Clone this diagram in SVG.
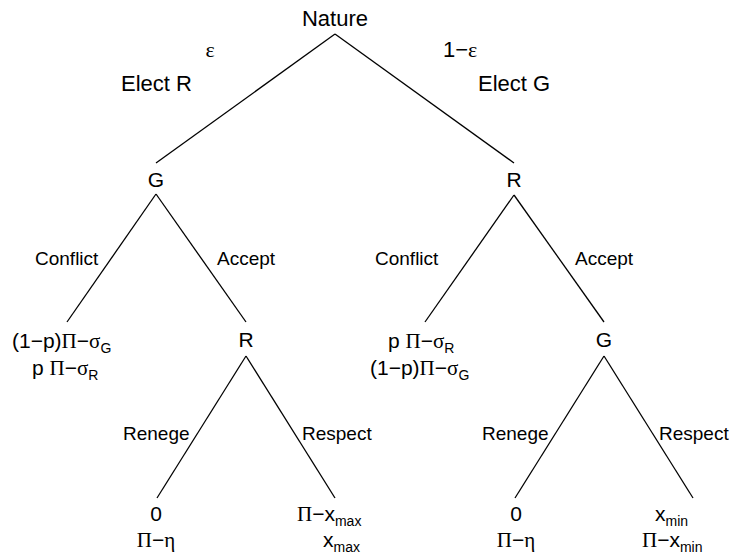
<svg xmlns="http://www.w3.org/2000/svg" width="729" height="559" viewBox="0 0 729 559">
<style>
text{font-family:"Liberation Sans",Arial,sans-serif;fill:#000}
.n{font-size:21px;text-anchor:middle}
.t{font-size:22px}
.e{font-size:19px}
.p{font-size:21px}
.g{font-family:"Liberation Serif","Times New Roman",serif}
.s{font-size:14px}
#edges line{stroke:#000;stroke-width:1.3;fill:none}
</style>
<rect width="729" height="559" fill="#fff"/>
<g id="edges">
<line x1="335" y1="34" x2="156" y2="163"/>
<line x1="335" y1="34" x2="514" y2="163"/>
<line x1="156" y1="194" x2="67" y2="322"/>
<line x1="156" y1="194" x2="246" y2="322"/>
<line x1="514" y1="195" x2="425" y2="322"/>
<line x1="514" y1="195" x2="604" y2="322"/>
<line x1="246" y1="356" x2="157" y2="498"/>
<line x1="246" y1="356" x2="335" y2="498"/>
<line x1="604" y1="356" x2="515" y2="498"/>
<line x1="604" y1="356" x2="693" y2="498"/>
</g>
<g id="labels">
<text class="t g" x="210" y="57" text-anchor="middle">ε</text>
<text class="t" x="443" y="57">1−<tspan class="g">ε</tspan></text>
<text class="t" x="121" y="91">Elect R</text>
<text class="t" x="478" y="91">Elect G</text>
<text class="e" x="35" y="265">Conflict</text>
<text class="e" x="217" y="265">Accept</text>
<text class="e" x="375" y="265">Conflict</text>
<text class="e" x="575" y="265">Accept</text>
<text class="e" x="123" y="440">Renege</text>
<text class="e" x="302" y="440">Respect</text>
<text class="e" x="482" y="440">Renege</text>
<text class="e" x="659" y="440">Respect</text>
</g>
<g id="nature"><text class="n" x="335" y="26" style="font-size:22px">Nature</text></g>
<g id="nodeG1"><text class="n" x="156" y="187">G</text></g>
<g id="nodeR1"><text class="n" x="514" y="187">R</text></g>
<g id="nodeR2"><text class="n" x="246" y="347">R</text></g>
<g id="nodeG2"><text class="n" x="604" y="347">G</text></g>
<g id="leafConflictL">
<text class="p" x="12" y="348">(1−p)<tspan class="g">Π</tspan>−<tspan class="g">σ</tspan><tspan class="s" dy="5">G</tspan></text>
<text class="p" x="32" y="375">p <tspan class="g">Π</tspan>−<tspan class="g">σ</tspan><tspan class="s" dy="5">R</tspan></text>
</g>
<g id="leafConflictR">
<text class="p" x="388" y="348">p <tspan class="g">Π</tspan>−<tspan class="g">σ</tspan><tspan class="s" dy="5">R</tspan></text>
<text class="p" x="370" y="375">(1−p)<tspan class="g">Π</tspan>−<tspan class="g">σ</tspan><tspan class="s" dy="5">G</tspan></text>
</g>
<g id="leafRenegeL">
<text class="n" x="156" y="521">0</text>
<text class="n" x="156" y="547"><tspan class="g">Π</tspan>−<tspan class="g">η</tspan></text>
</g>
<g id="leafRespectL">
<text class="p" x="297" y="521"><tspan class="g">Π</tspan>−x<tspan class="s" dy="5">max</tspan></text>
<text class="p" x="323" y="547">x<tspan class="s" dy="5">max</tspan></text>
</g>
<g id="leafRenegeR">
<text class="n" x="516" y="521">0</text>
<text class="n" x="516" y="547"><tspan class="g">Π</tspan>−<tspan class="g">η</tspan></text>
</g>
<g id="leafRespectR">
<text class="p" x="655" y="521">x<tspan class="s" dy="5">min</tspan></text>
<text class="p" x="642" y="547"><tspan class="g">Π</tspan>−x<tspan class="s" dy="5">min</tspan></text>
</g>
</svg>
